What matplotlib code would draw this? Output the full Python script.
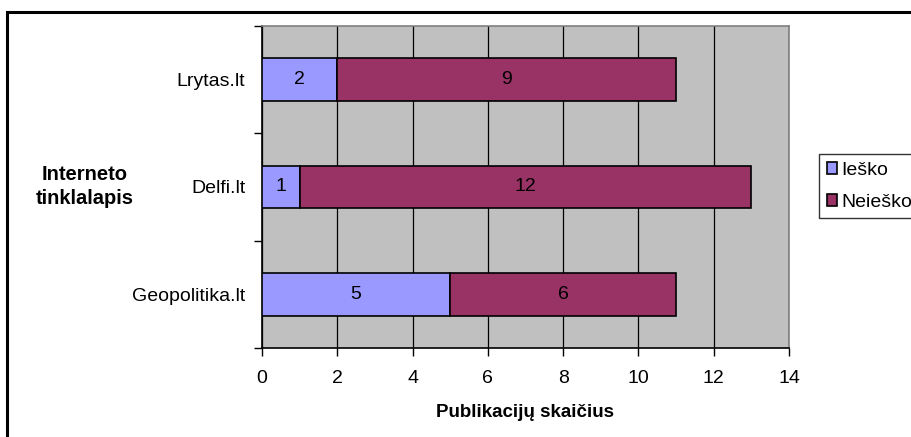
import numpy as np
import matplotlib.pyplot as plt
from matplotlib.patches import Rectangle

plt.rcParams['font.family'] = ['Liberation Sans', 'DejaVu Sans']

sites = ['Geopolitika.lt', 'Delfi.lt', 'Lrytas.lt']
iesko = [5, 1, 2]
neiesko = [6, 12, 9]
xticks = [0, 2, 4, 6, 8, 10, 12, 14]

fs = 14
fig = plt.figure(figsize=(9.12, 4.37), dpi=100)
ax = fig.add_axes([0.2873, 0.2037, 0.5778, 0.7368])

# outer frame (extends beyond the picture on the right and bottom)
fig.patches.append(Rectangle((0.0082, -0.1), 1.2, 1.073, transform=fig.transFigure,
                             fill=False, edgecolor='black', linewidth=2.2))

ax.set_facecolor('#C0C0C0')
y = np.arange(len(sites))
b1 = ax.barh(y, iesko, height=0.4, color='#9999FF', edgecolor='black', linewidth=1.2,
             label='Ieško', zorder=3)
b2 = ax.barh(y, neiesko, left=iesko, height=0.4, color='#993366', edgecolor='black',
             linewidth=1.2, label='Neieško', zorder=3)
ax.bar_label(b1, label_type='center', fontsize=fs)
ax.bar_label(b2, label_type='center', fontsize=fs)

ax.set_xlim(0, 14)
ax.set_ylim(-0.5, 2.5)
ax.set_xticks(xticks)
ax.tick_params(axis='x', labelsize=fs, length=6, width=1, pad=10)
ax.set_yticks(y)
ax.set_yticklabels(sites, fontsize=fs)
ax.set_yticks([-0.5, 0.5, 1.5, 2.5], minor=True)
ax.tick_params(axis='y', which='major', length=0, pad=12)
ax.tick_params(axis='y', which='minor', length=6, width=1)
ax.grid(axis='x', color='black', linewidth=0.9, zorder=1)
ax.set_axisbelow(True)

ax.spines['left'].set_color('black')
ax.spines['bottom'].set_color('black')
ax.spines['top'].set_color('#808080')
ax.spines['right'].set_color('#808080')
for s in ax.spines.values():
    s.set_linewidth(1.2)

ax.set_xlabel('Publikacijų skaičius', fontsize=13.5, fontweight='bold', labelpad=12)
fig.text(0.093, 0.573, 'Interneto\ntinklalapis', fontsize=14.5, fontweight='bold',
         ha='center', va='center', linespacing=1.35)

leg = fig.legend(handles=[b1, b2], loc='upper left', bbox_to_anchor=(0.898, 0.647),
                 fontsize=fs, frameon=True, fancybox=False, edgecolor='black',
                 handlelength=0.55, handleheight=0.55, handletextpad=0.2,
                 borderpad=0.4, labelspacing=0.75, borderaxespad=0)
leg.get_frame().set_linewidth(1)

fig.savefig('out.png', dpi=100)
